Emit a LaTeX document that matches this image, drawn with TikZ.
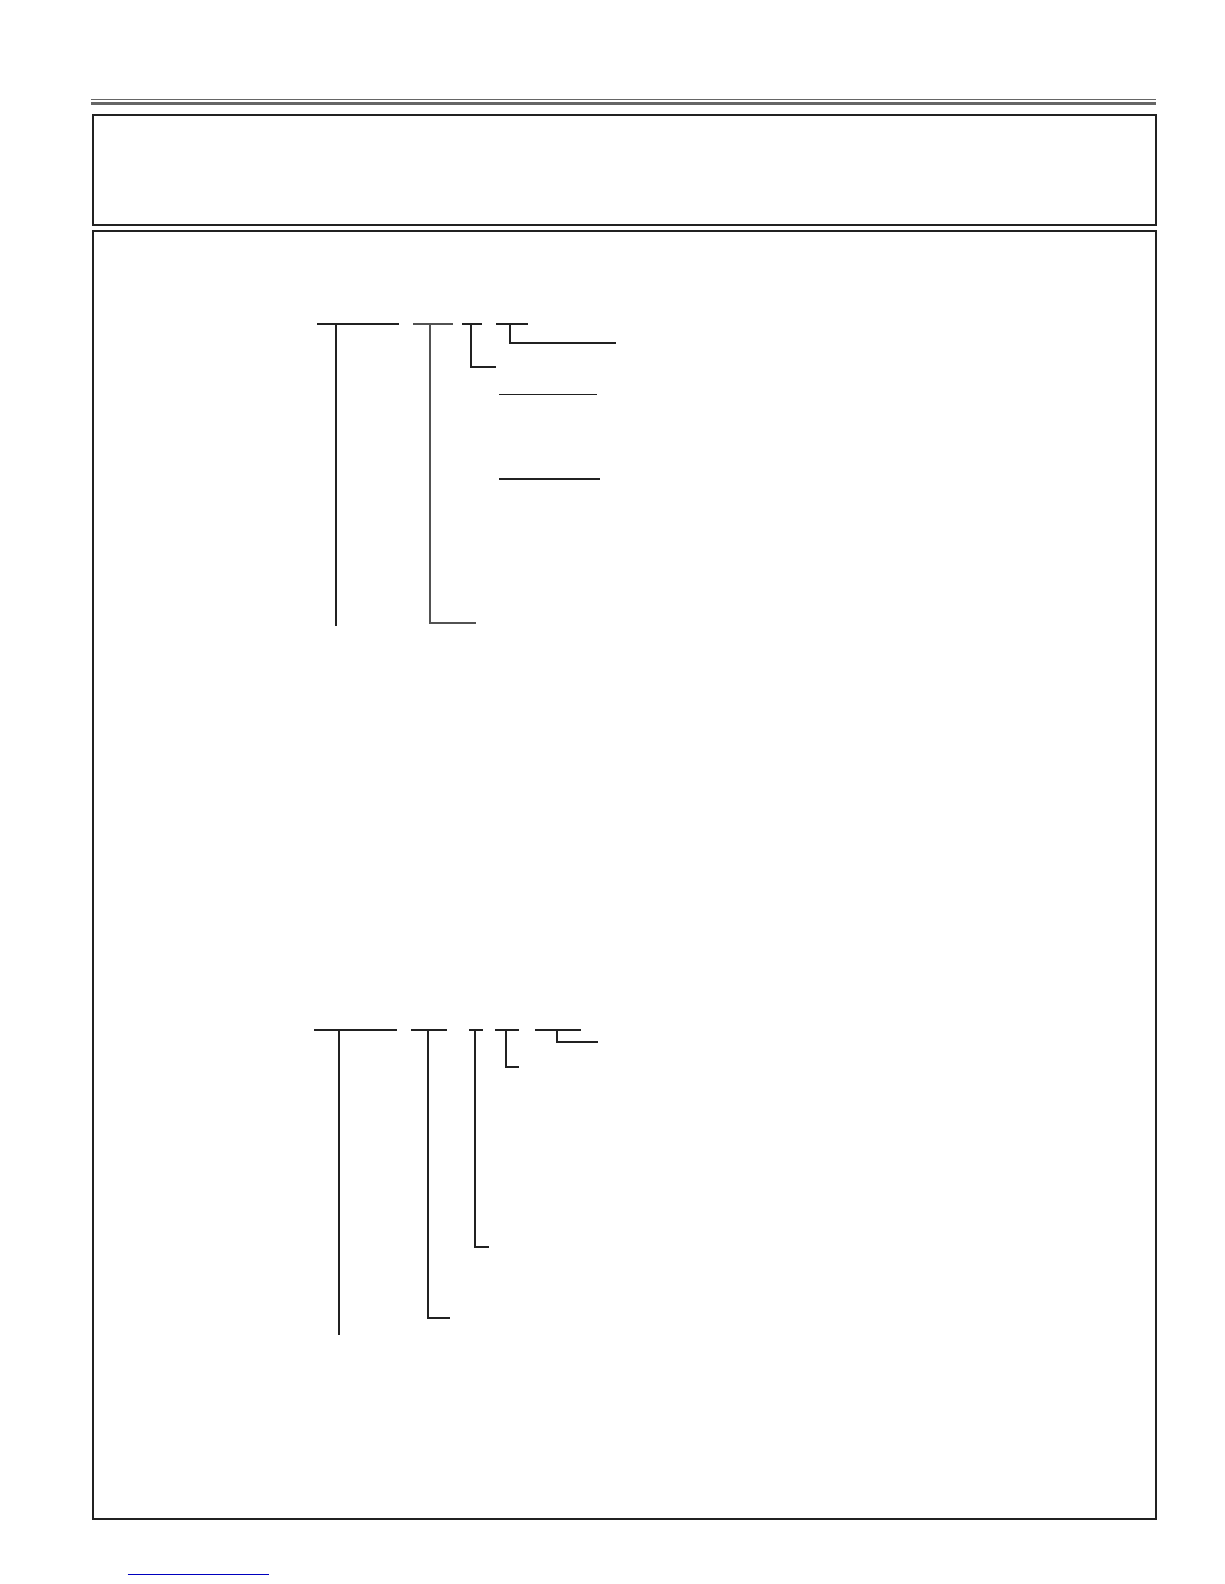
\documentclass[tikz,border=0pt]{standalone}
\begin{document}
\begin{tikzpicture}[x=1pt,y=-1pt,
  ink/.style={draw=black!87, line width=2pt, line cap=butt},
  thinink/.style={draw=black!87, line width=1.1pt},
  grayink/.style={draw=black!68, line width=2pt},
  frame/.style={draw=black!87, line width=2pt},
  rulethin/.style={draw=black!60, line width=1pt},
  rulethick/.style={draw=black!60, line width=2.7pt},
  linkline/.style={draw=blue!75!black, line width=1pt}]
\useasboundingbox (0,0) rectangle (1224,1584);
% header rules
\coordinate (r1a) at (91,99.4); \coordinate (r1b) at (1156,99.4);
\coordinate (r2a) at (91,103.3); \coordinate (r2b) at (1156,103.3);
\draw[rulethin] (r1a) -- (r1b);
\draw[rulethick] (r2a) -- (r2b);
% boxes
\node[frame, inner sep=0pt, minimum width=1062.7pt, minimum height=109pt, anchor=north west] (topbox) at (91.8,114.5) {};
\node[frame, inner sep=0pt, minimum width=1062.7pt, minimum height=1287.7pt, anchor=north west] (mainbox) at (91.8,230) {};
% top tree
\coordinate (a1l) at (317,324); \coordinate (a1r) at (399,324);
\coordinate (a1t) at (335.7,324); \coordinate (a1b) at (335.7,626);
\draw[ink] (a1l) -- (a1r);
\draw[ink] (a1t) -- (a1b);
\coordinate (a2l) at (413,324); \coordinate (a2r) at (453,324);
\coordinate (a2t) at (430,324); \coordinate (a2c) at (430,622.7); \coordinate (a2e) at (476,622.7);
\draw[grayink] (a2l) -- (a2r);
\draw[grayink] (a2t) -- (a2c) -- (a2e);
\coordinate (a3l) at (462,324); \coordinate (a3r) at (482,324);
\coordinate (a3t) at (471,324); \coordinate (a3c) at (471,366.7); \coordinate (a3e) at (496,366.7);
\draw[ink] (a3l) -- (a3r);
\draw[ink] (a3t) -- (a3c) -- (a3e);
\coordinate (a4l) at (496,324); \coordinate (a4r) at (528,324);
\coordinate (a4t) at (510,324); \coordinate (a4c) at (510,342.7); \coordinate (a4e) at (616,342.7);
\draw[ink] (a4l) -- (a4r);
\draw[ink] (a4t) -- (a4c) -- (a4e);
\coordinate (ul1a) at (499,394.3); \coordinate (ul1b) at (597,394.3);
\coordinate (ul2a) at (499,479); \coordinate (ul2b) at (600,479);
\draw[thinink] (ul1a) -- (ul1b);
\draw[thinink] (ul2a) -- (ul2b);
% bottom tree
\coordinate (b1l) at (314,1030); \coordinate (b1r) at (397,1030);
\coordinate (b1t) at (339,1030); \coordinate (b1b) at (339,1335.3);
\draw[ink] (b1l) -- (b1r);
\draw[ink] (b1t) -- (b1b);
\coordinate (b2l) at (411,1030); \coordinate (b2r) at (447,1030);
\coordinate (b2t) at (428,1030); \coordinate (b2c) at (428,1317.7); \coordinate (b2e) at (450,1317.7);
\draw[ink] (b2l) -- (b2r);
\draw[ink] (b2t) -- (b2c) -- (b2e);
\coordinate (b3l) at (469,1030); \coordinate (b3r) at (483,1030);
\coordinate (b3t) at (474.7,1030); \coordinate (b3c) at (474.7,1246.7); \coordinate (b3e) at (489,1246.7);
\draw[ink] (b3l) -- (b3r);
\draw[ink] (b3t) -- (b3c) -- (b3e);
\coordinate (b4l) at (495,1030); \coordinate (b4r) at (519,1030);
\coordinate (b4t) at (506,1030); \coordinate (b4c) at (506,1066.7); \coordinate (b4e) at (519,1066.7);
\draw[ink] (b4l) -- (b4r);
\draw[ink] (b4t) -- (b4c) -- (b4e);
\coordinate (b5l) at (535,1030); \coordinate (b5r) at (581,1030);
\coordinate (b5t) at (557,1030); \coordinate (b5c) at (557,1042); \coordinate (b5e) at (598,1042);
\draw[ink] (b5l) -- (b5r);
\draw[ink] (b5t) -- (b5c) -- (b5e);
% link underline at page foot
\coordinate (lk1) at (127.5,1574.3); \coordinate (lk2) at (269,1574.3);
\draw[linkline] (lk1) -- (lk2);
\end{tikzpicture}
\end{document}
